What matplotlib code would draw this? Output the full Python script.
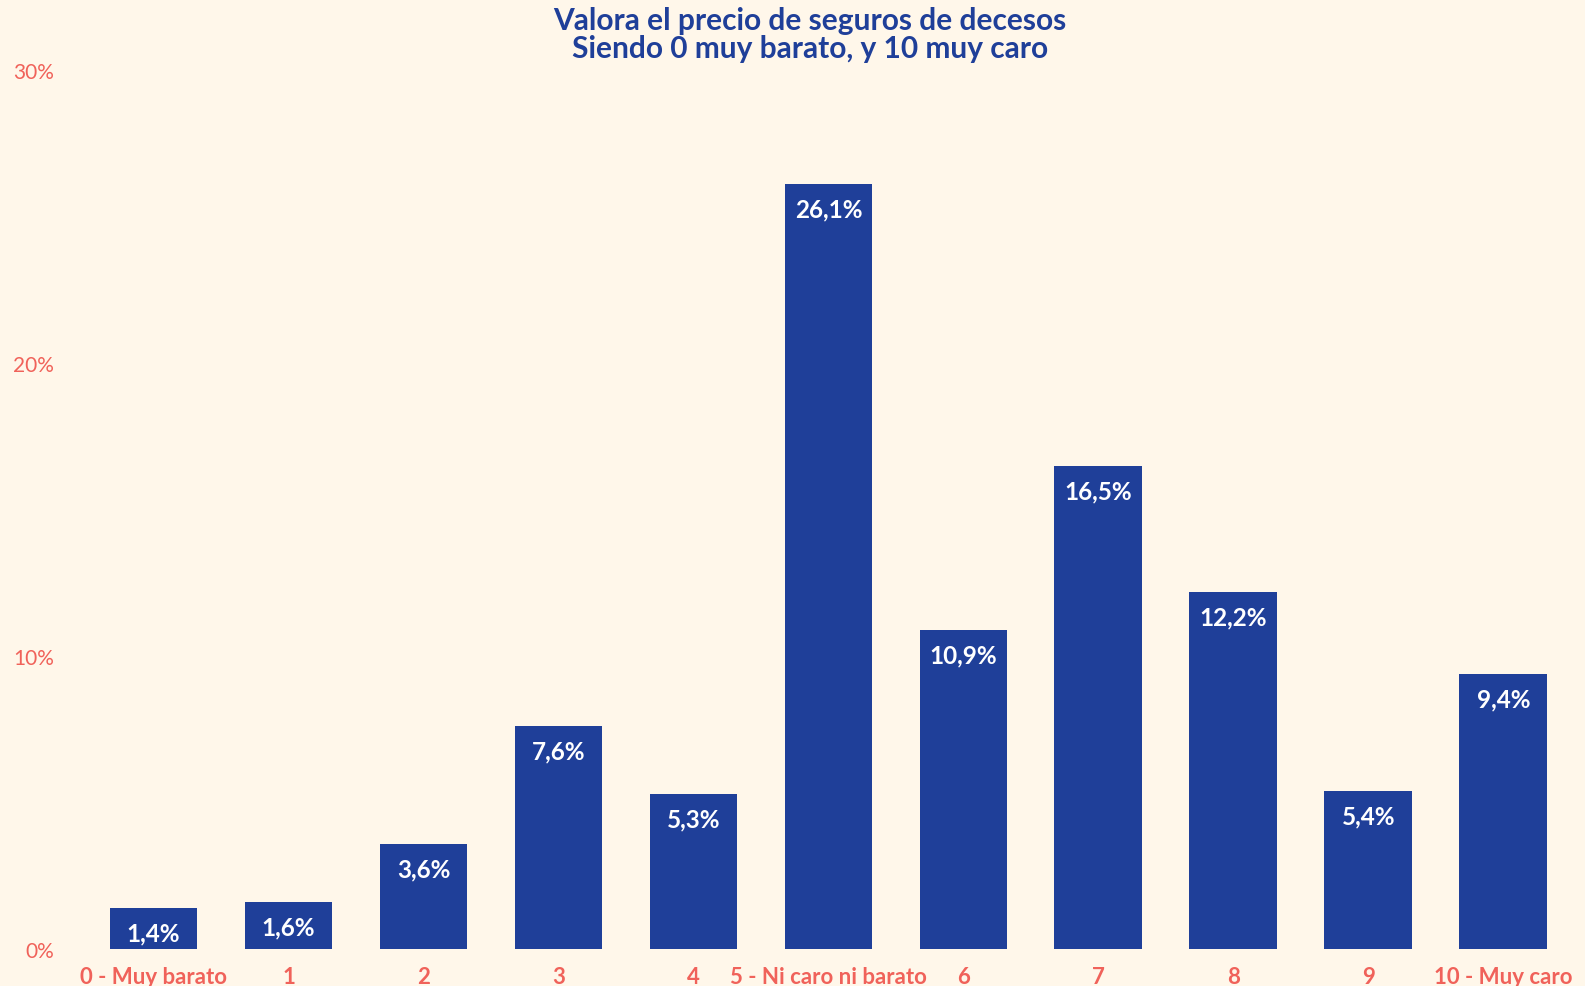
import matplotlib
matplotlib.use("Agg")
import matplotlib.pyplot as plt
from matplotlib.ticker import FuncFormatter

plt.rcParams['font.family'] = ['Lato', 'DejaVu Sans']

# datos
categorias = ["0 - Muy barato", "1", "2", "3", "4", "5 - Ni caro ni barato",
              "6", "7", "8", "9", "10 - Muy caro"]
valores = [1.4, 1.6, 3.6, 7.6, 5.3, 26.1, 10.9, 16.5, 12.2, 5.4, 9.4]
etiquetas = ["1,4%", "1,6%", "3,6%", "7,6%", "5,3%", "26,1%",
             "10,9%", "16,5%", "12,2%", "5,4%", "9,4%"]
yticks = [0, 10, 20, 30]

fondo = "#FFF7EA"
azul = "#1F3F99"
salmon = "#F0625A"

fig = plt.figure(figsize=(15.85, 9.87), dpi=100, facecolor=fondo)
ax = fig.add_axes([0.0543, 0.0375, 0.9367, 0.8905])
ax.set_facecolor(fondo)

x = range(len(categorias))
barras = ax.bar(x, valores, width=0.65, color=azul)

for b, txt in zip(barras, etiquetas):
    ax.annotate(txt, (b.get_x() + b.get_width() / 2, b.get_height()),
                xytext=(0, -25), textcoords="offset pixels",
                ha="center", va="center", color="white",
                fontsize=17.5, fontweight="bold")

ax.set_xlim(-0.5, 10.5)
ax.set_ylim(0, 30)
ax.set_yticks(yticks)
ax.yaxis.set_major_formatter(FuncFormatter(lambda v, p: f"{v:.0f}%"))
ax.set_xticks(list(x))
ax.set_xticklabels(categorias)

ax.tick_params(axis="y", length=0, pad=23, labelsize=15, labelcolor=salmon)
ax.tick_params(axis="x", length=0, pad=12, labelsize=16, labelcolor=salmon)
for lbl in ax.get_xticklabels():
    lbl.set_fontweight("bold")

for s in ax.spines.values():
    s.set_visible(False)

fig.text(0.511, 0.965, "Valora el precio de seguros de decesos\nSiendo 0 muy barato, y 10 muy caro",
         ha="center", va="center", color=azul, fontsize=21.5, fontweight="bold",
         linespacing=1.0)

fig.savefig("out.png", dpi=100, facecolor=fondo)
